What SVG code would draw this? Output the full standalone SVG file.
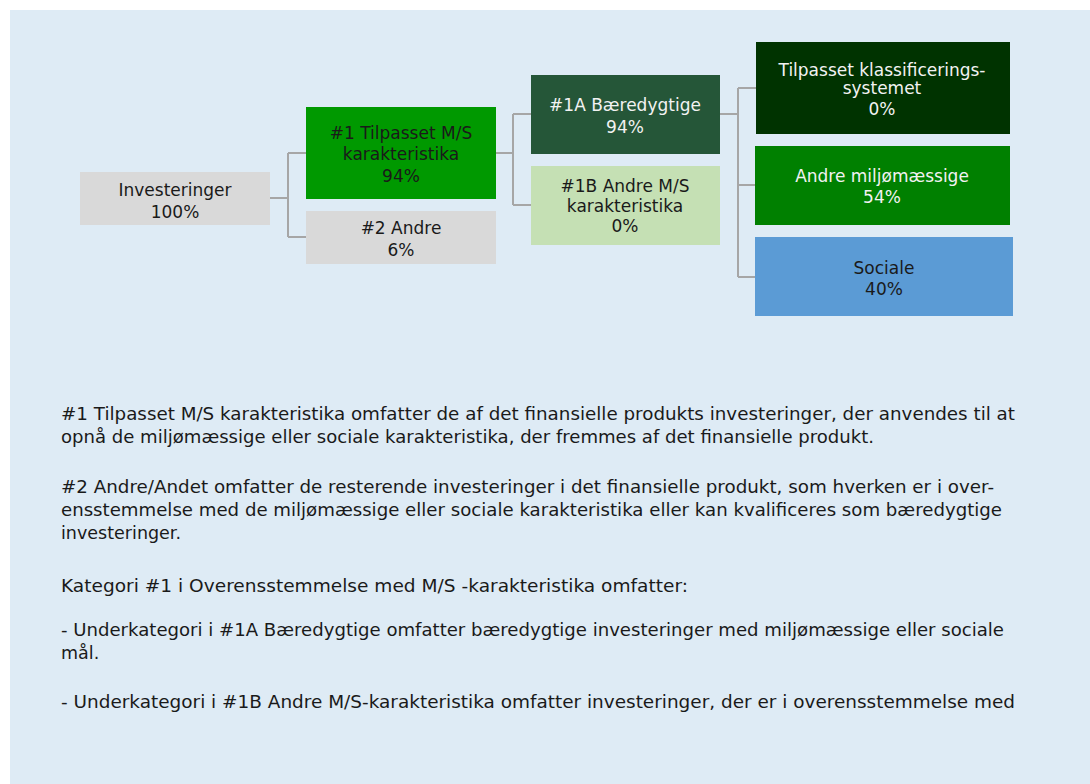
<svg xmlns="http://www.w3.org/2000/svg" width="1090" height="784" viewBox="0 0 1090 784">
<style>
  .bg{fill:#DEEBF5}
  .n text{font-family:"DejaVu Sans","Liberation Sans",sans-serif;font-size:17px;text-anchor:middle}
  .dark{fill:#1A1A1A}
  .light{fill:#F2F2F2}
  .conn path{fill:none;stroke:#A6A6A6;stroke-width:2}
  .body{font-family:"DejaVu Sans","Liberation Sans",sans-serif;font-size:17.5px;fill:#1A1A1A}
</style>
<rect x="0" y="0" width="1090" height="784" fill="#FFFFFF"/>
<rect class="bg" x="10" y="10" width="1080" height="774"/>

<g id="connectors" class="conn">
  <path d="M270 198 H288 M288 153 V237 M288 153 H306 M288 237 H306"/>
  <path d="M496 153 H513 M513 114 V205 M513 114 H531 M513 205 H531"/>
  <path d="M720 114 H738 M738 88 V277 M738 88 H756 M738 185 H755 M738 277 H755"/>
</g>

<g id="n-investeringer" class="n">
  <rect x="80" y="172" width="190" height="53" fill="#D9D9D9"/>
  <text class="dark" x="175" y="196">Investeringer</text>
  <text class="dark" x="175" y="218">100%</text>
</g>
<g id="n-1" class="n">
  <rect x="306" y="107" width="190" height="92" fill="#009900"/>
  <text class="dark" x="401" y="139">#1 Tilpasset M/S</text>
  <text class="dark" x="401" y="160">karakteristika</text>
  <text class="dark" x="401" y="182">94%</text>
</g>
<g id="n-2" class="n">
  <rect x="306" y="211" width="190" height="53" fill="#D9D9D9"/>
  <text class="dark" x="401" y="234">#2 Andre</text>
  <text class="dark" x="401" y="256">6%</text>
</g>
<g id="n-1a" class="n">
  <rect x="531" y="75" width="189" height="79" fill="#255638"/>
  <text class="light" x="625" y="111">#1A Bæredygtige</text>
  <text class="light" x="625" y="133">94%</text>
</g>
<g id="n-1b" class="n">
  <rect x="531" y="166" width="189" height="79" fill="#C5E0B4"/>
  <text class="dark" x="625" y="192">#1B Andre M/S</text>
  <text class="dark" x="625" y="212">karakteristika</text>
  <text class="dark" x="625" y="232">0%</text>
</g>
<g id="n-taxonomy" class="n">
  <rect x="756" y="42" width="254" height="92" fill="#003300"/>
  <text class="light" x="882" y="76">Tilpasset klassificerings-</text>
  <text class="light" x="882" y="94">systemet</text>
  <text class="light" x="882" y="115">0%</text>
</g>
<g id="n-env" class="n">
  <rect x="755" y="146" width="255" height="79" fill="#008000"/>
  <text class="light" x="882" y="182">Andre miljømæssige</text>
  <text class="light" x="882" y="203">54%</text>
</g>
<g id="n-social" class="n">
  <rect x="755" y="237" width="258" height="79" fill="#5B9BD5"/>
  <text class="dark" x="884" y="274">Sociale</text>
  <text class="dark" x="884" y="295">40%</text>
</g>

<g id="notes" class="body">
  <text x="61" y="420" textLength="954" lengthAdjust="spacingAndGlyphs">#1 Tilpasset M/S karakteristika omfatter de af det finansielle produkts investeringer, der anvendes til at</text>
  <text x="61" y="443" textLength="813" lengthAdjust="spacingAndGlyphs">opnå de miljømæssige eller sociale karakteristika, der fremmes af det finansielle produkt.</text>
  <text x="61" y="493" textLength="933" lengthAdjust="spacingAndGlyphs">#2 Andre/Andet omfatter de resterende investeringer i det finansielle produkt, som hverken er i over-</text>
  <text x="61" y="516" textLength="941" lengthAdjust="spacingAndGlyphs">ensstemmelse med de miljømæssige eller sociale karakteristika eller kan kvalificeres som bæredygtige</text>
  <text x="61" y="539">investeringer.</text>
  <text x="61" y="592" textLength="627" lengthAdjust="spacingAndGlyphs">Kategori #1 i Overensstemmelse med M/S -karakteristika omfatter:</text>
  <text x="61" y="636" textLength="943" lengthAdjust="spacingAndGlyphs">- Underkategori i #1A Bæredygtige omfatter bæredygtige investeringer med miljømæssige eller sociale</text>
  <text x="61" y="659">mål.</text>
  <text x="61" y="708" textLength="954" lengthAdjust="spacingAndGlyphs">- Underkategori i #1B Andre M/S-karakteristika omfatter investeringer, der er i overensstemmelse med</text>
</g>
</svg>
